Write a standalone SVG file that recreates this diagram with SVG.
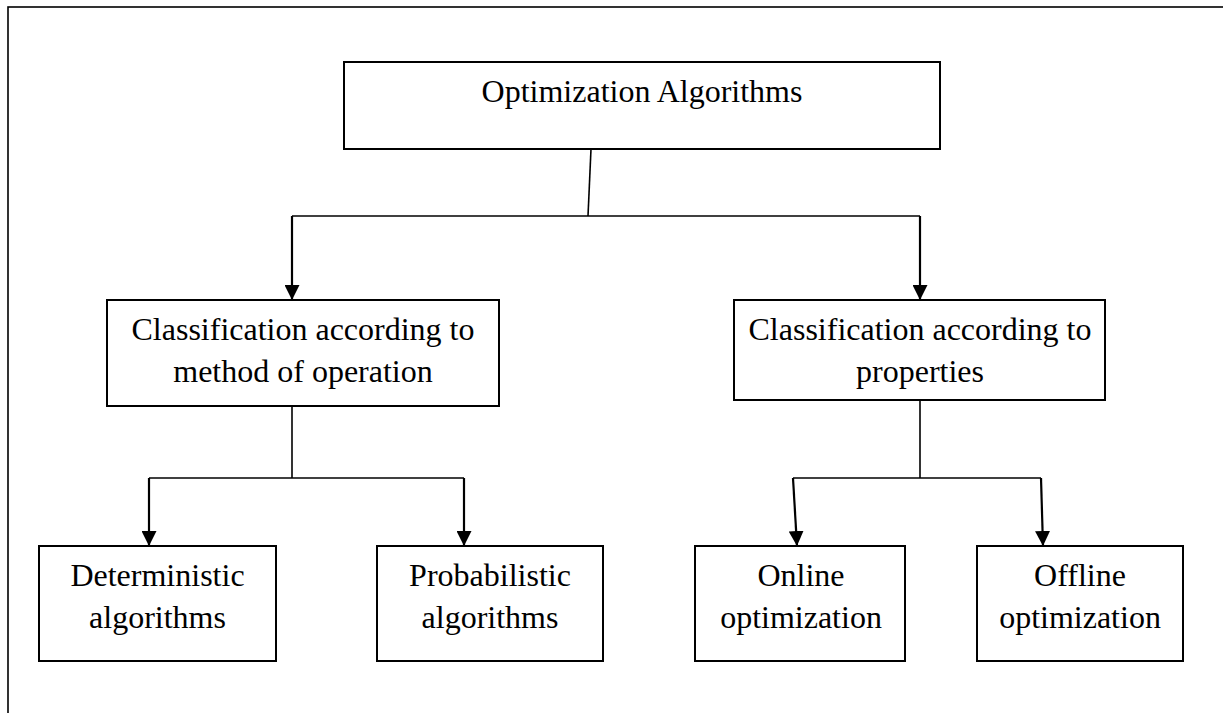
<svg xmlns="http://www.w3.org/2000/svg" width="1223" height="713" viewBox="0 0 1223 713">
  <style>
    .box { fill: #ffffff; stroke: #000000; stroke-width: 2; }
    .lbl { font-family: "Liberation Serif", "Times New Roman", serif; font-size: 32px; fill: #000000; text-anchor: middle; }
    .ln { fill: none; stroke: #000000; stroke-width: 1.6; }
    .ar { fill: none; stroke: #000000; stroke-width: 2.2; marker-end: url(#arrow); }
  </style>
  <defs>
    <marker id="arrow" viewBox="0 0 15 15" refX="15" refY="7.5" markerWidth="15" markerHeight="15" markerUnits="userSpaceOnUse" orient="auto">
      <path d="M0,0 L15,7.5 L0,15 z" fill="#000000"/>
    </marker>
  </defs>
  <rect x="0" y="0" width="1223" height="713" fill="#ffffff"/>
  <g id="frame">
    <rect x="8" y="7" width="1240" height="730" fill="none" stroke="#000000" stroke-width="1.6"/>
  </g>
  <g id="connectors">
    <path class="ln" d="M591,149 L588,216"/>
    <path class="ln" d="M292,216 L920,216"/>
    <path class="ar" d="M292,216 L292,300"/>
    <path class="ar" d="M920,216 L920,300"/>
    <path class="ln" d="M292,406 L292,478"/>
    <path class="ln" d="M149,478 L464,478"/>
    <path class="ar" d="M149,478 L149,546"/>
    <path class="ar" d="M464,478 L464,546"/>
    <path class="ln" d="M920,400 L920,478"/>
    <path class="ln" d="M793,478 L1041,478"/>
    <path class="ar" d="M793,478 L797,546"/>
    <path class="ar" d="M1041,478 L1043,546"/>
  </g>
  <g id="node-root">
    <rect class="box" x="344" y="62" width="596" height="87"/>
    <text class="lbl" x="642" y="102">Optimization Algorithms</text>
  </g>
  <g id="node-method">
    <rect class="box" x="107" y="300" width="392" height="106"/>
    <text class="lbl" x="303" y="340">Classification according to</text>
    <text class="lbl" x="303" y="382">method of operation</text>
  </g>
  <g id="node-properties">
    <rect class="box" x="734" y="300" width="371" height="100"/>
    <text class="lbl" x="920" y="340">Classification according to</text>
    <text class="lbl" x="920" y="382">properties</text>
  </g>
  <g id="node-deterministic">
    <rect class="box" x="39" y="546" width="237" height="115"/>
    <text class="lbl" x="157.5" y="586">Deterministic</text>
    <text class="lbl" x="157.5" y="628">algorithms</text>
  </g>
  <g id="node-probabilistic">
    <rect class="box" x="377" y="546" width="226" height="115"/>
    <text class="lbl" x="490" y="586">Probabilistic</text>
    <text class="lbl" x="490" y="628">algorithms</text>
  </g>
  <g id="node-online">
    <rect class="box" x="695" y="546" width="210" height="115"/>
    <text class="lbl" x="801" y="586">Online</text>
    <text class="lbl" x="801" y="628">optimization</text>
  </g>
  <g id="node-offline">
    <rect class="box" x="977" y="546" width="206" height="115"/>
    <text class="lbl" x="1080" y="586">Offline</text>
    <text class="lbl" x="1080" y="628">optimization</text>
  </g>
</svg>
